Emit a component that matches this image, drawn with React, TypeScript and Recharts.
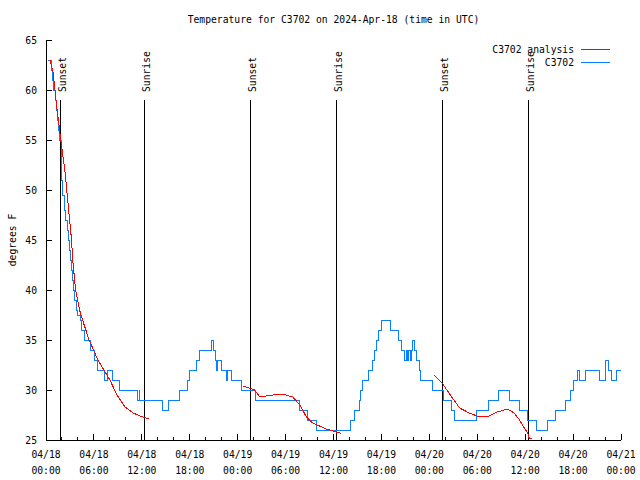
import React from 'react';
import { ComposedChart, Line, XAxis, YAxis, ReferenceLine, Legend } from 'recharts';

const FONT = '"DejaVu Sans Mono", "Liberation Mono", monospace';
const FS = 9.7;

// Observations (C3702) - hours since 04/18 00:00 UTC, degrees F
const obsHours = [
  0.3, 0.7, 0.85, 1.0, 1.15, 1.3, 1.45, 1.6, 1.75, 1.9, 2.0, 2.1, 2.3, 2.5, 2.65, 2.8, 2.9, 3.05, 3.2, 3.3,
  3.45, 3.6, 3.8, 4.0, 4.3, 4.5, 4.8, 5.6, 6.1, 6.5, 7.3, 7.7, 8.3, 9.25, 11.45, 11.65, 11.75, 14.6, 15.4, 16.75,
  17.75, 18.0, 18.9, 19.25, 20.75, 21.0, 21.25, 21.4, 21.5, 21.75, 22.0, 22.6, 22.7, 22.8, 23.25, 24.5, 26.25, 31.75, 32.75, 33.9,
  38.1, 38.6, 39.25, 39.4, 39.6, 40.4, 40.9, 41.1, 41.4, 41.6, 42.0, 43.1, 44.1, 44.5, 44.9, 45.1, 45.3, 45.4, 45.6, 45.75,
  45.9, 46.1, 46.4, 46.75, 46.9, 47.1, 48.4, 49.75, 50.75, 51.1, 53.9, 55.4, 56.5, 56.6, 58.1, 59.25, 60.25, 61.4, 62.75, 63.75,
  65.1, 65.7, 66.1, 66.6, 66.75, 67.6, 69.25, 70.1, 70.4, 70.75, 71.4, 72,
];
const obsTemps = [
  63, 62, 61, 60, 59, 58, 57, 56, 55, 53, 51, 49.5, 48, 47, 46, 45, 44, 43, 42, 41,
  40, 39, 38, 37.5, 37, 36, 35, 34, 33, 32, 31, 32, 31, 30, 29, 30, 29, 28, 29, 30,
  31, 32, 33, 34, 35, 34, 33, 32, 33, 33, 32, 31, 32, 32, 31, 30, 29, 28, 27, 26,
  27, 28, 29, 30, 31, 32, 33, 34, 35, 36, 37, 36, 35, 34, 33, 34, 33, 34, 33, 34,
  35, 34, 33, 32, 31, 31, 30, 29, 28, 27, 28, 29, 29, 30, 29, 28, 27, 26, 27, 28,
  29, 30, 31, 32, 31, 32, 31, 33, 32, 31, 32, 32,
];

// Analysis (C3702 analysis) - three segments
const anaHours1 = [0.5, 0.9, 1.35, 1.85, 2.4, 2.8, 3.2, 3.35, 3.7, 4.2, 4.7, 5.4, 6.5, 8.0, 8.9, 9.9, 10.9, 12.1, 12.9];
const anaTemps1 = [63, 61.7, 58.3, 55, 51.7, 48.3, 45, 43, 40, 38, 36.7, 35, 33, 31, 29.5, 28.3, 27.7, 27.3, 27.1];
const anaHours2 = [24.65, 25.4, 26.1, 26.8, 28.4, 29.6, 30.9, 31.8, 32.6, 33.4, 35.1, 36.8, 37.0];
const anaTemps2 = [30.4, 30.2, 30, 29.3, 29.5, 29.6, 29.3, 28.5, 27.3, 26.7, 26.1, 25.7, 25.7];
const anaHours3 = [48.6, 49.6, 50.8, 51.8, 53.0, 54.3, 55.5, 56.5, 57.8, 58.6, 59.3, 59.9, 60.3, 60.5, 60.9];
const anaTemps3 = [31.5, 30.7, 29.3, 28.2, 27.7, 27.3, 27.4, 27.8, 28.1, 27.7, 27, 26.2, 25.7, 25.2, 25.1];

const sunsetHours = [1.8, 25.6, 49.65];
const sunriseHours = [12.3, 36.35, 60.4];

const xTickHours = [0, 2, 4, 6, 8, 10, 12, 14, 16, 18, 20, 22, 24, 26, 28, 30, 32, 34, 36, 38, 40, 42, 44, 46, 48, 50, 52, 54, 56, 58, 60, 62, 64, 66, 68, 70, 72];
const majorHours = [0, 6, 12, 18, 24, 30, 36, 42, 48, 54, 60, 66, 72];
const dateLabels = ['04/18', '04/18', '04/18', '04/18', '04/19', '04/19', '04/19', '04/19', '04/20', '04/20', '04/20', '04/20', '04/21'];
const timeLabels = ['00:00', '06:00', '12:00', '18:00', '00:00', '06:00', '12:00', '18:00', '00:00', '06:00', '12:00', '18:00', '00:00'];
const yTicks = [25, 30, 35, 40, 45, 50, 55, 60, 65];

const title = 'Temperature for C3702 on 2024-Apr-18 (time in UTC)';
const yLabel = 'degrees F';
const obsName = 'C3702';
const anaName = 'C3702 analysis';
const sunsetText = 'Sunset';
const sunriseText = 'Sunrise';
const labelTopTemp = 59;

const obsData = obsHours.map((h, i) => ({ h, v: obsTemps[i] }));
const anaData = [
  ...anaHours1.map((h, i) => ({ h, v: anaTemps1[i] as number | null })),
  { h: 18, v: null },
  ...anaHours2.map((h, i) => ({ h, v: anaTemps2[i] as number | null })),
  { h: 42, v: null },
  ...anaHours3.map((h, i) => ({ h, v: anaTemps3[i] as number | null })),
];

const BLUE = '#0a80ff';
const RED = '#ff0000';

const BottomTick = (props: any) => {
  const { x, y, payload } = props;
  const idx = majorHours.indexOf(payload.value);
  const major = idx >= 0;
  return (
    <g>
      <line x1={x} x2={x} y1={y} y2={y - (major ? 6 : 3)} stroke="#000" shapeRendering="crispEdges" />
      {major && (
        <text x={x} y={y + 14} textAnchor="middle" dominantBaseline="central" fontFamily={FONT} fontSize={FS} fill="#000">
          {dateLabels[idx]}
        </text>
      )}
      {major && (
        <text x={x} y={y + 30} textAnchor="middle" dominantBaseline="central" fontFamily={FONT} fontSize={FS} fill="#000">
          {timeLabels[idx]}
        </text>
      )}
    </g>
  );
};

const TopTick = (props: any) => {
  const { x, y, payload } = props;
  const major = majorHours.indexOf(payload.value) >= 0;
  return <line x1={x} x2={x} y1={y} y2={y + (major ? 6 : 3)} stroke="#000" shapeRendering="crispEdges" />;
};

const LeftTick = (props: any) => {
  const { x, y, payload } = props;
  return (
    <g>
      <line x1={x} x2={x + 6} y1={y} y2={y} stroke="#000" shapeRendering="crispEdges" />
      <text x={x - 9} y={y} textAnchor="end" dominantBaseline="central" fontFamily={FONT} fontSize={FS} fill="#000">
        {payload.value}
      </text>
    </g>
  );
};

const RightTick = (props: any) => {
  const { x, y } = props;
  return <line x1={x} x2={x - 6} y1={y} y2={y} stroke="#000" shapeRendering="crispEdges" />;
};

const SunLabel = (props: any) => {
  const { viewBox, text } = props;
  if (!viewBox) return null;
  const x = viewBox.x + 2;
  const y = viewBox.y - 8;
  return (
    <text
      x={x}
      y={y}
      transform={`rotate(-90 ${x} ${y})`}
      textAnchor="start"
      dominantBaseline="central"
      fontFamily={FONT}
      fontSize={FS}
      fill="#000"
    >
      {text}
    </text>
  );
};

const renderLegend = (props: any) => {
  const payload = (props.payload || []) as any[];
  const items = [...payload].reverse();
  return (
    <div style={{ position: 'relative', width: 640, height: 80 }}>
      {items.map((it: any, i: number) => (
        <React.Fragment key={it.value}>
          <div
            style={{
              position: 'absolute',
              right: 640 - 574,
              top: 44 + i * 13,
              fontFamily: FONT,
              fontSize: FS,
              lineHeight: '12px',
              whiteSpace: 'nowrap',
              color: '#000',
            }}
          >
            {it.value}
          </div>
          <div style={{ position: 'absolute', left: 581, top: 49 + i * 13, width: 29, height: 1, background: it.color }} />
        </React.Fragment>
      ))}
    </div>
  );
};

export default function App() {
  return (
    <div style={{ position: 'absolute', left: 0, top: 0, width: 640, height: 480, background: '#fff' }}>
      <div
        style={{
          position: 'absolute',
          left: 0,
          width: 667,
          top: 13,
          textAlign: 'center',
          fontFamily: FONT,
          fontSize: FS,
          lineHeight: '14px',
          whiteSpace: 'nowrap',
        }}
      >
        {title}
      </div>
      <div
        style={{
          position: 'absolute',
          left: 12,
          top: 240,
          transform: 'translate(-50%, -50%) rotate(-90deg)',
          fontFamily: FONT,
          fontSize: FS,
          whiteSpace: 'nowrap',
        }}
      >
        {yLabel}
      </div>
      <ComposedChart width={640} height={480} margin={{ top: 40, right: 19, bottom: 0, left: 0 }}>
        <XAxis
          dataKey="h"
          type="number"
          domain={[0, 72]}
          ticks={xTickHours}
          interval={0}
          height={40}
          tickSize={0}
          tickMargin={0}
          tickLine={false}
          axisLine={{ stroke: '#000', shapeRendering: 'crispEdges' }}
          tick={<BottomTick />}
          allowDataOverflow
        />
        <XAxis
          xAxisId="top"
          orientation="top"
          dataKey="h"
          type="number"
          domain={[0, 72]}
          ticks={xTickHours}
          interval={0}
          height={0}
          tickSize={0}
          tickMargin={0}
          tickLine={false}
          axisLine={{ stroke: '#000', shapeRendering: 'crispEdges' }}
          tick={<TopTick />}
          allowDataOverflow
        />
        <YAxis
          type="number"
          domain={[25, 65]}
          ticks={yTicks}
          interval={0}
          width={46}
          tickSize={0}
          tickMargin={0}
          tickLine={false}
          axisLine={{ stroke: '#000', shapeRendering: 'crispEdges' }}
          tick={<LeftTick />}
          allowDataOverflow
        />
        <YAxis
          yAxisId="right"
          orientation="right"
          type="number"
          domain={[25, 65]}
          ticks={yTicks}
          interval={0}
          width={0}
          tickSize={0}
          tickMargin={0}
          tickLine={false}
          axisLine={{ stroke: '#000', shapeRendering: 'crispEdges' }}
          tick={<RightTick />}
          allowDataOverflow
        />
        {sunsetHours.map((h) => (
          <ReferenceLine
            key={'ss' + h}
            segment={[{ x: h, y: labelTopTemp }, { x: h, y: 25 }]}
            stroke="#000"
            strokeWidth={1}
            shapeRendering="crispEdges"
            label={<SunLabel text={sunsetText} />}
          />
        ))}
        {sunriseHours.map((h) => (
          <ReferenceLine
            key={'sr' + h}
            segment={[{ x: h, y: labelTopTemp }, { x: h, y: 25 }]}
            stroke="#000"
            strokeWidth={1}
            shapeRendering="crispEdges"
            label={<SunLabel text={sunriseText} />}
          />
        ))}
        <Line
          data={obsData}
          dataKey="v"
          name={obsName}
          type="stepAfter"
          stroke={BLUE}
          strokeWidth={1}
          shapeRendering="crispEdges"
          dot={false}
          activeDot={false}
          isAnimationActive={false}
        />
        <Line
          data={anaData}
          dataKey="v"
          name={anaName}
          type="linear"
          stroke={RED}
          strokeWidth={1}
          shapeRendering="crispEdges"
          dot={false}
          activeDot={false}
          connectNulls={false}
          isAnimationActive={false}
        />
        <Legend
          layout="vertical"
          align="center"
          verticalAlign="middle"
          wrapperStyle={{ position: 'absolute', left: 0, top: 0, width: 640, height: 80 }}
          content={renderLegend}
        />
      </ComposedChart>
    </div>
  );
}
